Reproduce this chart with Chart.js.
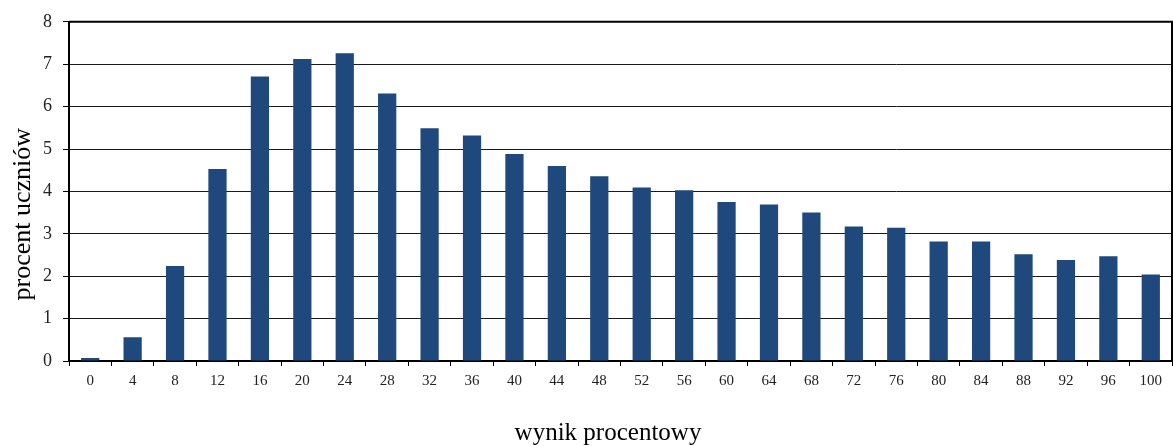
<!DOCTYPE html>
<html>
<head>
<meta charset="utf-8">
<script src="https://cdn.jsdelivr.net/npm/chart.js@4"></script>
<style>
    html, body { margin: 0; padding: 0; background: #fff; }
    #wrap { width: 1173px; height: 446px; }
</style>
</head>
<body>
<div id="wrap"><canvas id="chart"></canvas></div>
<script>
// wynik procentowy (kategorie)
const scores = ['0', '4', '8', '12', '16', '20', '24', '28', '32', '36', '40', '44', '48',
                '52', '56', '60', '64', '68', '72', '76', '80', '84', '88', '92', '96', '100'];
// procent uczniów
const percents = [0.07, 0.56, 2.24, 4.53, 6.71, 7.12, 7.26, 6.31, 5.49, 5.32, 4.88, 4.60, 4.36,
                  4.09, 4.03, 3.75, 3.69, 3.50, 3.17, 3.14, 2.82, 2.82, 2.52, 2.38, 2.47, 2.04];
const yTicks = [0, 1, 2, 3, 4, 5, 6, 7, 8];

const serif = '"Liberation Serif", "Times New Roman", serif';
// tytuły w oryginale są lekko przesunięte względem środka osi
const pad = n => '\u00a0'.repeat(n);

// ramka wokół obszaru wykresu
const frame = {
    id: 'frame',
    afterDatasetsDraw(chart) {
        const { ctx, chartArea: a } = chart;
        ctx.save();
        ctx.strokeStyle = '#000';
        ctx.lineWidth = 2;
        ctx.beginPath();
        ctx.moveTo(a.left, a.top);
        ctx.lineTo(a.right, a.top);
        ctx.lineTo(a.right, a.bottom);
        ctx.stroke();
        ctx.restore();
    }
};

new Chart(document.getElementById('chart'), {
    type: 'bar',
    data: {
        labels: scores,
        datasets: [{
            data: percents,
            backgroundColor: '#1f497d',
            borderWidth: 0,
            categoryPercentage: 1,
            barPercentage: 0.43
        }]
    },
    options: {
        responsive: true,
        maintainAspectRatio: false,
        animation: false,
        layout: { padding: { top: 21, right: 1, bottom: 0, left: 0 } },
        plugins: { legend: { display: false }, tooltip: { enabled: false } },
        scales: {
            x: {
                afterFit: s => { s.height = 85; },
                grid: { drawOnChartArea: false, drawTicks: true, tickLength: 5, color: '#000', lineWidth: 1, offset: true },
                border: { display: true, color: '#000', width: 2 },
                ticks: { color: '#222', font: { family: serif, size: 15 }, padding: 6, maxRotation: 0, autoSkip: false },
                title: { display: true, text: 'wynik procentowy' + pad(4), color: '#000', font: { family: serif, size: 25, lineHeight: 1 }, padding: { top: 0, bottom: 0 } }
            },
            y: {
                min: 0,
                max: 8,
                afterFit: s => { s.width = 69; },
                afterBuildTicks: s => { s.ticks = yTicks.map(v => ({ value: v })); },
                grid: { color: '#1a1a1a', lineWidth: 1, tickLength: 6, tickColor: '#000' },
                border: { display: true, color: '#000', width: 2 },
                ticks: { color: '#222', font: { family: serif, size: 18 }, padding: 11 },
                title: { display: true, text: 'procent uczniów' + pad(7), color: '#000', font: { family: serif, size: 26, lineHeight: 1 }, padding: { top: 10, bottom: 0 } }
            }
        }
    },
    plugins: [frame]
});
</script>
</body>
</html>
